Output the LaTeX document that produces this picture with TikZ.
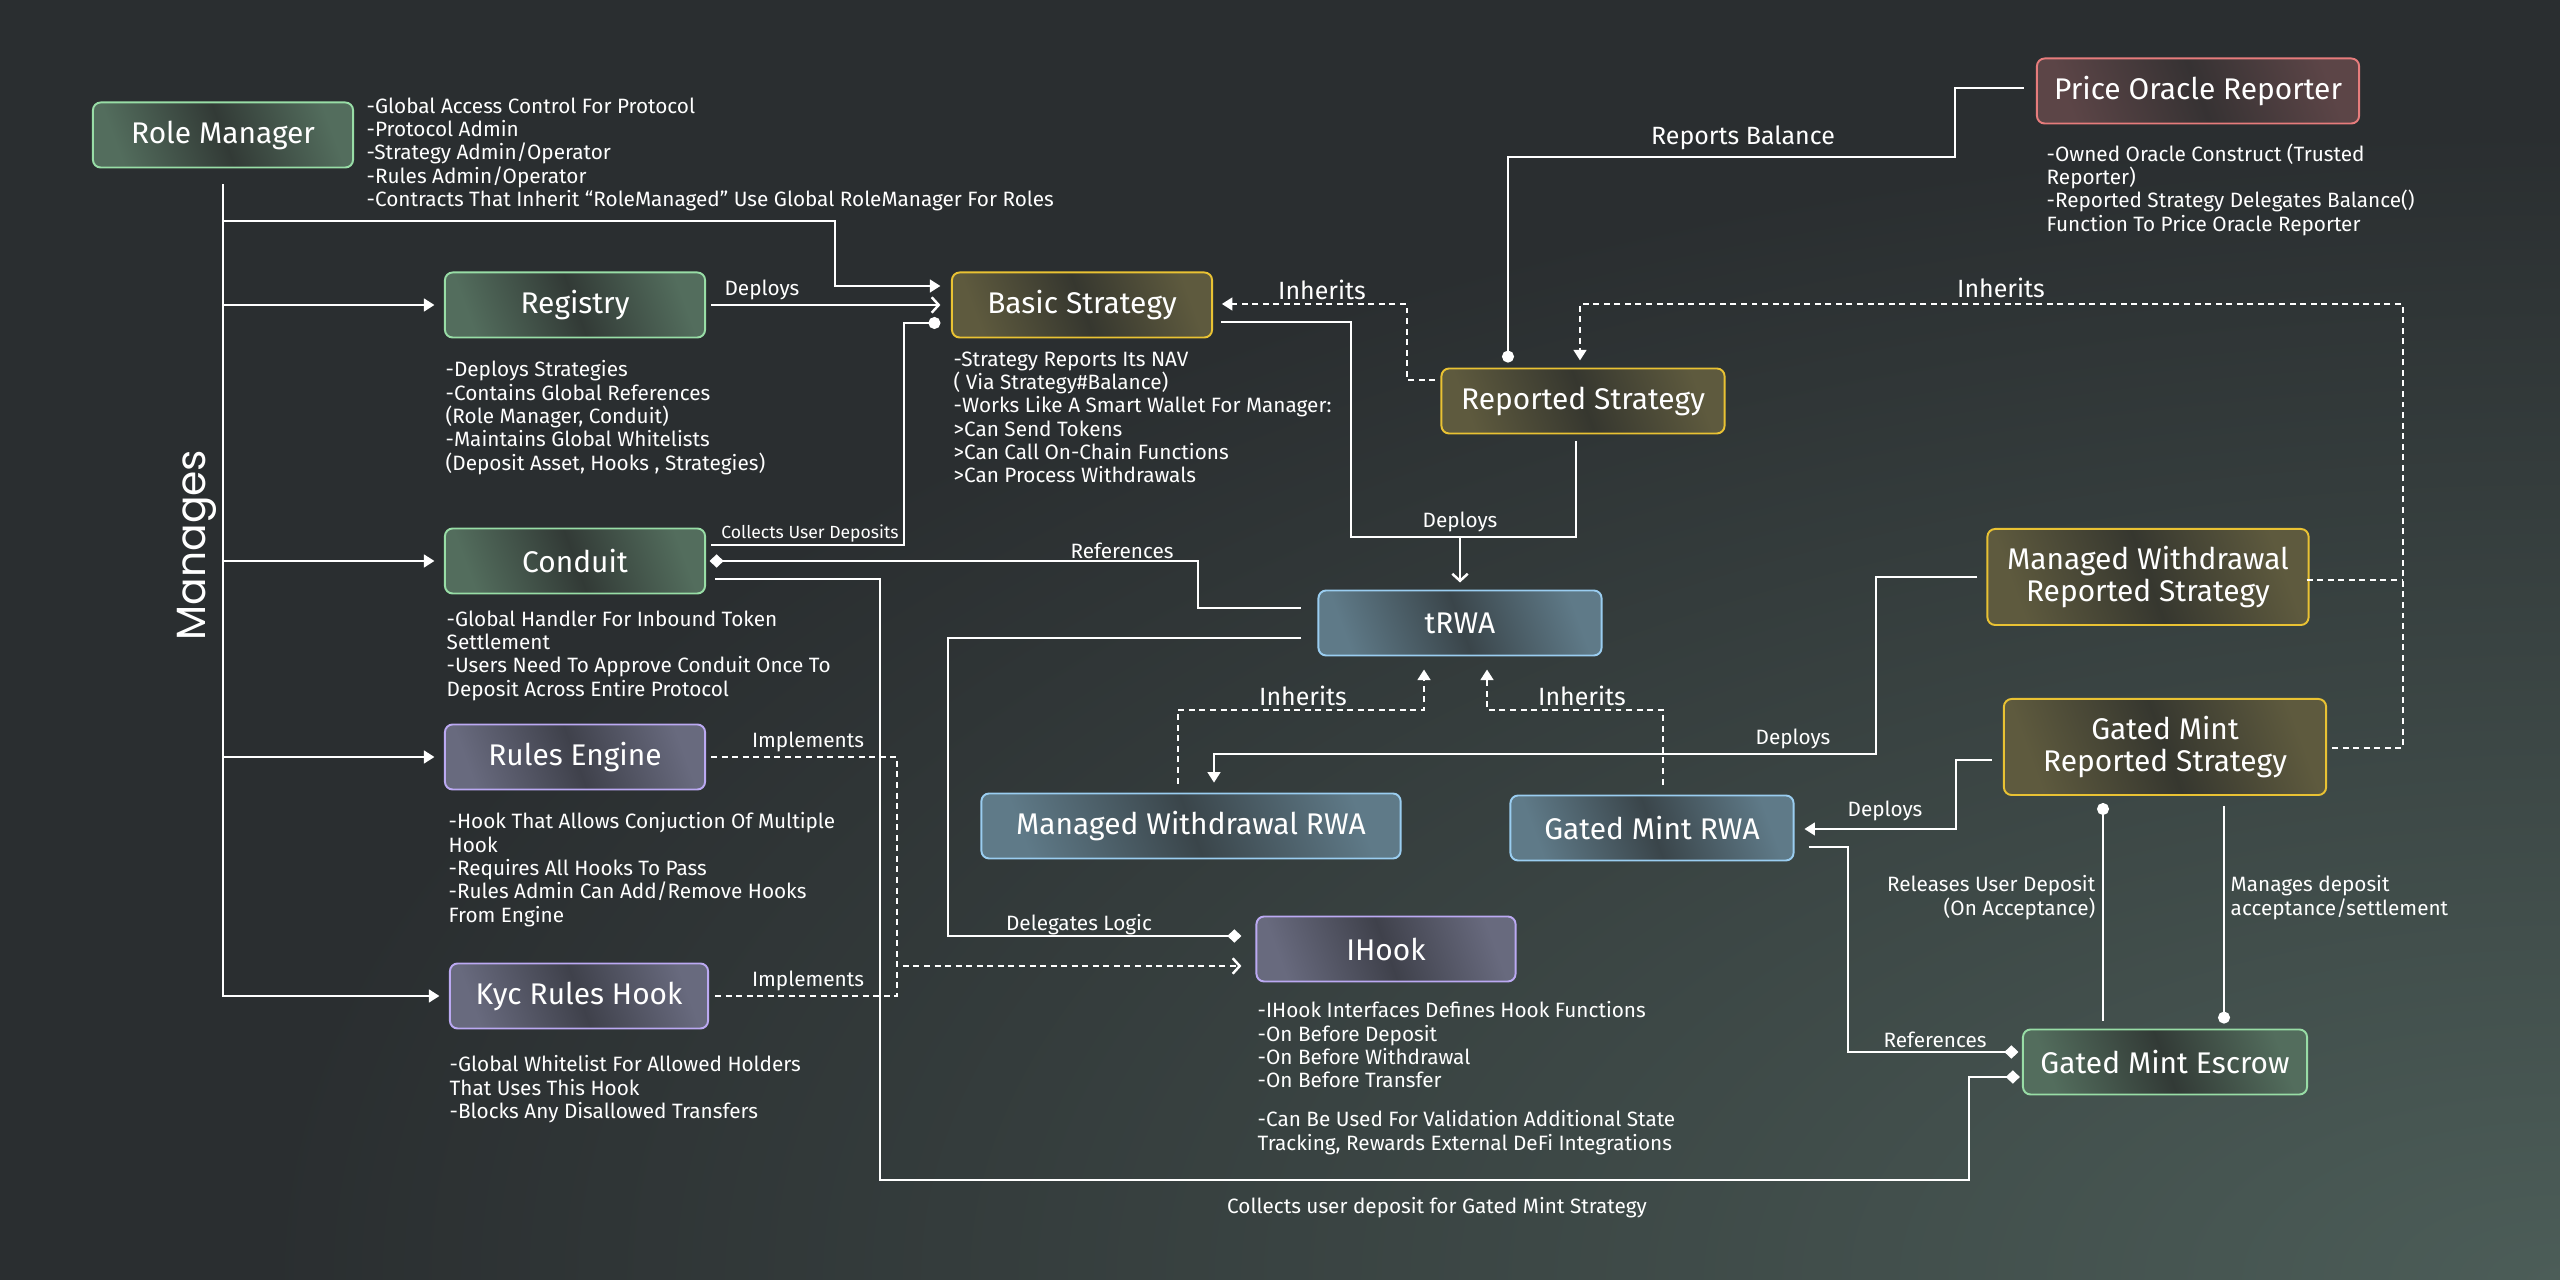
\documentclass[tikz,border=0pt]{standalone}
\usepackage{fontspec}
\setmainfont{Fira Sans}
\newfontfamily\managesfont{Poppins}
\usetikzlibrary{arrows.meta,calc}
\lineskiplimit=-\maxdimen

\definecolor{bgdark}{HTML}{2A2E30}
\definecolor{bglight}{HTML}{4C5D58}
\definecolor{greenline}{HTML}{98DDA6}
\definecolor{greendark}{HTML}{323A36}
\definecolor{greenlight}{HTML}{536D5D}
\definecolor{goldline}{HTML}{E9C233}
\definecolor{golddark}{HTML}{36372F}
\definecolor{goldlight}{HTML}{5E5A3E}
\definecolor{redline}{HTML}{E67C7C}
\definecolor{reddark}{HTML}{363233}
\definecolor{redlight}{HTML}{5C4547}
\definecolor{blueline}{HTML}{9ACDF0}
\definecolor{bluedark}{HTML}{3A454A}
\definecolor{bluelight}{HTML}{5F7A88}
\definecolor{violetline}{HTML}{BBA9F2}
\definecolor{violetdark}{HTML}{3F414B}
\definecolor{violetlight}{HTML}{686A7E}

\begin{document}
\begin{tikzpicture}[x=0.01cm,y=-0.01cm,
  box/.style={rounded corners=2.2pt,line width=0.55pt,text=white,align=center,
    font=\fontsize{8.5}{9.1}\selectfont,minimum height=0.65cm,inner sep=0pt},
  greenbox/.style={box,draw=greenline,left color=greenlight,right color=greenlight,middle color=greendark,shading angle=110},
  goldbox/.style={box,draw=goldline,left color=goldlight,right color=goldlight,middle color=golddark,shading angle=110},
  redbox/.style={box,draw=redline,left color=redlight,right color=redlight,middle color=reddark,shading angle=110},
  bluebox/.style={box,draw=blueline,left color=bluelight,right color=bluelight,middle color=bluedark,shading angle=110},
  violetbox/.style={box,draw=violetline,left color=violetlight,right color=violetlight,middle color=violetdark,shading angle=110},
  desc/.style={anchor=north west,align=left,text=white,inner sep=0pt,font=\fontsize{5.9}{6.63}\selectfont},
  lblsmall/.style={text=white,inner sep=0pt,font=\fontsize{5}{6}\selectfont},
  lbl/.style={text=white,inner sep=0pt,font=\fontsize{5.9}{6.8}\selectfont},
  lblbig/.style={text=white,inner sep=0pt,font=\fontsize{7.1}{8}\selectfont},
  conn/.style={draw=white,line width=0.7pt},
  dots/.style={conn,dash pattern=on 1.7pt off 1.3pt},
  tri/.style={-{Triangle[length=3pt,width=3.6pt]}},
  barb/.style={-{Straight Barb[length=2pt,width=4.4pt]}},
  dot/.style={-{Circle[length=3.4pt]}},
  dia/.style={-{Diamond[length=4pt,width=3.8pt]}}]

  %sfondo
  \useasboundingbox (0,0) rectangle (2560,1280);
  \fill[bgdark] (0,0) rectangle (2560,1280);
  \begin{scope}
    \clip (0,0) rectangle (2560,1280);
    \shade[inner color=bglight,outer color=bgdark] (2560,1280) ellipse (2300 and 1150);
  \end{scope}

  %nodi
  \node[greenbox,minimum width=2.6cm] (rolemgr) at (223,135) {Role Manager};
  \node[greenbox,minimum width=2.6cm] (registry) at (575,305) {Registry};
  \node[goldbox,minimum width=2.6cm] (basic) at (1082,305) {Basic Strategy};
  \node[goldbox,minimum width=2.83cm] (reported) at (1583,401) {Reported Strategy};
  \node[redbox,minimum width=3.22cm] (oracle) at (2198,91) {Price Oracle Reporter};
  \node[greenbox,minimum width=2.6cm] (conduit) at (575,561) {Conduit};
  \node[violetbox,minimum width=2.6cm] (rules) at (575,757) {Rules Engine};
  \node[violetbox,minimum width=2.58cm] (kyc) at (579,996) {Kyc Rules Hook};
  \node[bluebox,minimum width=2.83cm] (trwa) at (1460,623) {tRWA};
  \node[bluebox,minimum width=4.19cm] (mwrwa) at (1191,826) {Managed Withdrawal RWA};
  \node[bluebox,minimum width=2.83cm] (gmrwa) at (1652,828) {Gated Mint RWA};
  \node[violetbox,minimum width=2.59cm] (ihook) at (1386,949) {IHook};
  \node[goldbox,minimum width=3.21cm,minimum height=0.96cm] (mwrs) at (2148,577) {Managed Withdrawal\\Reported Strategy};
  \node[goldbox,minimum width=3.22cm,minimum height=0.96cm] (gmrs) at (2165,747) {Gated Mint\\Reported Strategy};
  \node[greenbox,minimum width=2.84cm] (escrow) at (2165,1062) {Gated Mint Escrow};

  %testi
  \node[desc] (rmtext) at (366,97) {-Global Access Control For Protocol\\-Protocol Admin\\-Strategy Admin/Operator\\-Rules Admin/Operator\\-Contracts That Inherit “RoleManaged” Use Global RoleManager For Roles};
  \node[desc] (regtext) at (445,360) {-Deploys Strategies\\-Contains Global References\\(Role Manager, Conduit)\\-Maintains Global Whitelists\\(Deposit Asset, Hooks , Strategies)};
  \node[desc] (basictext) at (953,351) {-Strategy Reports Its NAV\\( Via Strategy\#Balance)\\-Works Like A Smart Wallet For Manager:\\>Can Send Tokens\\>Can Call On-Chain Functions\\>Can Process Withdrawals};
  \node[desc] (oracletext) at (2046,143) {-Owned Oracle Construct (Trusted\\Reporter)\\-Reported Strategy Delegates Balance()\\Function To Price Oracle Reporter};
  \node[desc] (conduittext) at (446,610) {-Global Handler For Inbound Token\\Settlement\\-Users Need To Approve Conduit Once To\\Deposit Across Entire Protocol};
  \node[desc] (rulestext) at (448,812) {-Hook That Allows Conjuction Of Multiple\\Hook\\-Requires All Hooks To Pass\\-Rules Admin Can Add/Remove Hooks\\From Engine};
  \node[desc] (kyctext) at (449,1055) {-Global Whitelist For Allowed Holders\\That Uses This Hook\\-Blocks Any Disallowed Transfers};
  \node[desc] (ihooktext) at (1257,1001) {-IHook Interfaces Defines Hook Functions\\-On Before Deposit\\-On Before Withdrawal\\-On Before Transfer\\[4.5pt]-Can Be Used For Validation Additional State\\Tracking, Rewards External DeFi Integrations};
  \node[rotate=90,text=white,inner sep=0pt,font=\managesfont\fontsize{11.6}{12}\selectfont] (manages) at (197,545) {Manages};

  %manages
  \coordinate (spine) at ($(rolemgr.south)+(0,16)$);
  \draw[conn,tri,shorten >=2.7pt] (spine) |- (registry.west);
  \draw[conn,tri,shorten >=2.7pt] (spine) |- (conduit.west);
  \draw[conn,tri,shorten >=2.7pt] (spine) |- (rules.west);
  \draw[conn,tri,shorten >=2.7pt] (spine) |- (kyc.west);
  \draw[conn,tri,shorten >=3pt] (spine) |- (835,221) |- ($(basic.west)+(0,-19)$);

  %frecce in alto
  \draw[conn,barb,shorten <=1.4pt,shorten >=3pt] (registry.east) -- (basic.west);
  \node[lbl] (deploys1) at (762,290) {Deploys};
  \draw[conn,dot,shorten >=3pt] ($(conduit.east)+(5,-16)$) -| (904,323) -- ($(basic.west)+(0,18)$);
  \node[lblsmall] (collects) at (810,534) {Collects User Deposits};
  \draw[dots,tri,shorten >=2.5pt] ($(reported.west)+(-5,-21)$) -| (1407,304) -- ($(basic.east)+(0,-1)$);
  \node[lblbig] (inherits1) at (1322,290) {Inherits};
  \draw[conn,dot,shorten >=1.4pt] ($(oracle.west)+(-12,-3)$) -| (1955,157) -| ($(reported.north)+(-75,0)$);
  \node[lblbig] (reportsbal) at (1743,138) {Reports Balance};
  \draw[dots,tri,shorten >=2pt] ($(gmrs.east)+(5,1)$) -| (2403,304) -| ($(reported.north)+(-3,0)$);
  \draw[dots] ($(mwrs.east)+(-3,3)$) -- (2403,580);
  \node[lblbig] (inherits2) at (2001,288) {Inherits};

  %trwa
  \draw[conn,barb,shorten >=2pt] ($(basic.east)+(8,17)$) -| (1351,537) -| (trwa.north);
  \draw[conn] ($(reported.south)+(-7,7)$) |- (1351,537);
  \node[lbl] (deploys2) at (1460,522) {Deploys};
  \draw[conn,{Diamond[length=4pt,width=3.8pt]}-,shorten <=1pt] (conduit.east) -| (1198,608) -- ($(trwa.west)+(-16,-15)$);
  \node[lbl] (refs1) at (1122,551) {References};
  \draw[conn,dia,shorten >=4pt] ($(trwa.west)+(-16,15)$) -| (948,936) -- ($(ihook.west)+(0,-13)$);
  \node[lbl] (delegates) at (1079,925) {Delegates Logic};
  \draw[dots,tri,shorten >=3.7pt] ($(mwrwa.north)+(-13,-9)$) |- (1424,710) -- ($(trwa.south)+(-36,0)$);
  \node[lblbig] (inherits3) at (1303,696) {Inherits};
  \draw[dots,tri,shorten >=3.7pt] ($(gmrwa.north)+(11,-10)$) |- (1487,710) -- ($(trwa.south)+(27,0)$);
  \node[lblbig] (inherits4) at (1582,696) {Inherits};

  %hook
  \draw[dots,barb,shorten >=4pt] ($(rules.east)+(5,0)$) -| (897,966) -- ($(ihook.west)+(0,17)$);
  \draw[dots] ($(kyc.east)+(6,0)$) -| (897,966);
  \node[lbl] (impl1) at (808,742) {Implements};
  \node[lbl] (impl2) at (808,981) {Implements};

  %strategie a destra
  \draw[conn,tri,shorten >=2.8pt] ($(mwrs.west)+(-9,0)$) -| (1876,754) -| ($(mwrwa.north)+(23,0)$);
  \node[lbl] (deploys3) at (1793,739) {Deploys};
  \draw[conn,tri,shorten >=2.8pt] ($(gmrs.west)+(-11,13)$) -| (1956,829) -- ($(gmrwa.east)+(0,1)$);
  \node[lbl] (deploys4) at (1885,811) {Deploys};
  \draw[conn,dia,shorten >=1pt] ($(gmrwa.east)+(14,19)$) -| (1848,1052) -- ($(escrow.west)+(0,-10)$);
  \node[lbl] (refs2) at (1935,1040) {References};
  \draw[conn,dot,shorten >=2pt] ($(escrow.north)+(-62,-8)$) -- ($(gmrs.south)+(-62,0)$);
  \node[lbl,align=right,anchor=east] (releases) at (2096,898) {Releases User Deposit\\(On Acceptance)};
  \draw[conn,dot,shorten >=1.4pt] ($(gmrs.south)+(59,10)$) -- ($(escrow.north)+(59,0)$);
  \node[lbl,align=left,anchor=west] (managesdep) at (2230,898) {Manages deposit\\acceptance/settlement};

  %escrow
  \draw[conn,dia,shorten >=0.6pt] ($(conduit.east)+(9,18)$) -| (880,1180) -| (1969,1077) -- ($(escrow.west)+(0,15)$);
  \node[lbl] (collectsgm) at (1437,1208) {Collects user deposit for Gated Mint Strategy};
\end{tikzpicture}
\end{document}
